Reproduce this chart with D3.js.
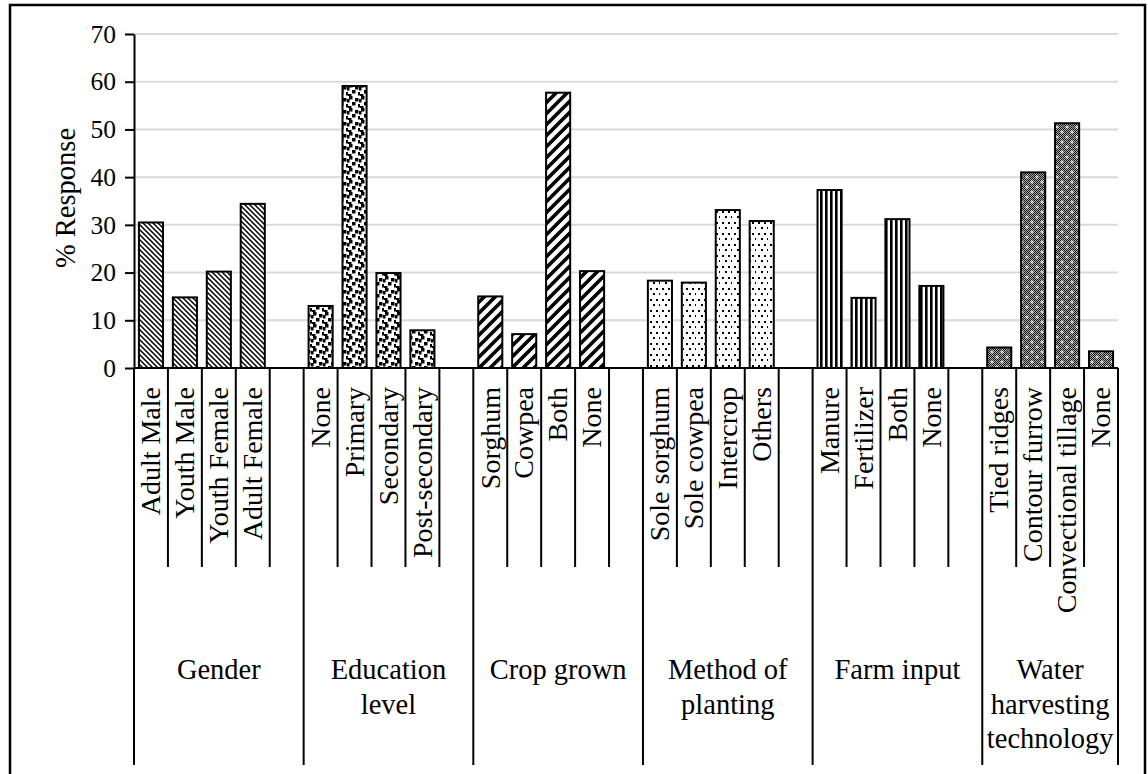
<!DOCTYPE html>
<html>
<head>
<meta charset="utf-8">
<script src="https://cdn.jsdelivr.net/npm/d3@7/dist/d3.min.js"></script>
<style>
  html, body { margin: 0; padding: 0; background: #fff; }
  svg { display: block; }
  text { font-family: "Liberation Serif", "Times New Roman", serif; fill: #000; }
</style>
</head>
<body>
<svg id="chart" width="1148" height="774"></svg>
<script>
// ---- data ----
const groupNames = ["Gender", "Education level", "Crop grown", "Method of planting", "Farm input", "Water harvesting technology"];
const groupLabelLines = [["Gender"], ["Education", "level"], ["Crop grown"], ["Method of", "planting"], ["Farm input"], ["Water", "harvesting", "technology"]];

const genderCats = ["Adult Male", "Youth Male", "Youth Female", "Adult Female"];
const genderValues = [30.5, 14.8, 20.2, 34.4];

const educationCats = ["None", "Primary", "Secondary", "Post-secondary"];
const educationValues = [13.0, 59.1, 19.9, 7.9];

const cropCats = ["Sorghum", "Cowpea", "Both", "None"];
const cropValues = [15.0, 7.1, 57.7, 20.3];

const plantingCats = ["Sole sorghum", "Sole cowpea", "Intercrop", "Others"];
const plantingValues = [18.3, 17.9, 33.1, 30.8];

const inputCats = ["Manure", "Fertilizer", "Both", "None"];
const inputValues = [37.3, 14.7, 31.2, 17.2];

const waterCats = ["Tied ridges", "Contour furrow", "Convectional tillage", "None"];
const waterValues = [4.3, 41.0, 51.3, 3.5];

const yTicks = [0, 10, 20, 30, 40, 50, 60, 70];

const groupCats = [genderCats, educationCats, cropCats, plantingCats, inputCats, waterCats];
const groupValues = [genderValues, educationValues, cropValues, plantingValues, inputValues, waterValues];
const patternIds = ["pGender", "pEdu", "pCrop", "pPlant", "pInput", "pWater"];

(function draw() {
// ---- layout ----
const svg = d3.select("#chart");
const plotLeft = 134, plotRight = 1118, plotTop = 34, plotBase = 368;
const shortEnd = 567, longEnd = 765;

// ---- patterns ----
const defs = svg.append("defs");
{
  const s = 5;
  const p = defs.append("pattern").attr("id", "pGender").attr("patternUnits", "userSpaceOnUse").attr("width", s).attr("height", s);
  p.append("rect").attr("width", s).attr("height", s).attr("fill", "#fff");
  p.append("path").attr("d", `M-1,-1L${s+1},${s+1}M${s-1},-1L${s+1},1M-1,${s-1}L1,${s+1}`).attr("stroke", "#000").attr("stroke-width", 1.5);
}
{
  const s = 12;
  const p = defs.append("pattern").attr("id", "pEdu").attr("patternUnits", "userSpaceOnUse").attr("width", s).attr("height", s);
  p.append("rect").attr("width", s).attr("height", s).attr("fill", "#fff");
  [[1,0],[7,2],[4,6],[10,8],[0,10],[11,3]].forEach(([x,y]) => {
    p.append("rect").attr("x", x).attr("y", y).attr("width", 3.5).attr("height", 3.5).attr("fill", "#000");
  });
  // wrap-around pieces
  p.append("rect").attr("x", -1).attr("y", 3).attr("width", 2.5).attr("height", 3.5).attr("fill", "#000");
}
{
  const s = 11;
  const p = defs.append("pattern").attr("id", "pCrop").attr("patternUnits", "userSpaceOnUse").attr("width", s).attr("height", s);
  p.append("rect").attr("width", s).attr("height", s).attr("fill", "#fff");
  p.append("path").attr("d", `M-2,${s+2}L${s+2},-2M-2,2L2,-2M${s-2},${s+2}L${s+2},${s-2}`).attr("stroke", "#000").attr("stroke-width", 3.6);
}
{
  const w = 12, h = 11;
  const p = defs.append("pattern").attr("id", "pPlant").attr("patternUnits", "userSpaceOnUse").attr("width", w).attr("height", h);
  p.append("rect").attr("width", w).attr("height", h).attr("fill", "#fff");
  [[2,2],[8,2],[5,7],[11,7]].forEach(([x,y]) => {
    p.append("rect").attr("x", x).attr("y", y).attr("width", 2).attr("height", 2).attr("fill", "#000");
  });
}
{
  const s = 5;
  const p = defs.append("pattern").attr("id", "pInput").attr("patternUnits", "userSpaceOnUse").attr("width", s).attr("height", s);
  p.append("rect").attr("width", s).attr("height", s).attr("fill", "#fff");
  p.append("rect").attr("x", 0).attr("width", 2.6).attr("height", s).attr("fill", "#000");
}
{
  const c = defs.append("pattern").attr("id", "pChecker").attr("patternUnits", "userSpaceOnUse").attr("width", 2).attr("height", 2);
  c.append("rect").attr("width", 2).attr("height", 2).attr("fill", "#fff");
  c.append("rect").attr("x", 0).attr("y", 0).attr("width", 1).attr("height", 1).attr("fill", "#000");
  c.append("rect").attr("x", 1).attr("y", 1).attr("width", 1).attr("height", 1).attr("fill", "#000");
  const s = 10;
  const p = defs.append("pattern").attr("id", "pWater").attr("patternUnits", "userSpaceOnUse").attr("width", s).attr("height", s);
  p.append("rect").attr("width", s).attr("height", s).attr("fill", "#333");
  p.append("rect").attr("width", s).attr("height", s).attr("fill", "url(#pChecker)").attr("opacity", 0.6);
  [[2,2],[7,7]].forEach(([x,y]) => {
    p.append("rect").attr("x", x - 1.5).attr("y", y - 0.5).attr("width", 3).attr("height", 1).attr("fill", "#fff");
    p.append("rect").attr("x", x - 0.5).attr("y", y - 1.5).attr("width", 1).attr("height", 3).attr("fill", "#fff");
  });
}

// ---- slots ----
const slots = [];
groupNames.forEach((g, gi) => {
  groupCats[gi].forEach((c, ci) => {
    slots.push({ id: gi + "-" + ci, group: gi, cat: c, value: groupValues[gi][ci], blank: false });
  });
  if (gi < groupNames.length - 1) slots.push({ id: gi + "-blank", group: gi, blank: true });
});

const x = d3.scaleBand().domain(slots.map(d => d.id)).range([plotLeft, plotRight]).padding(0);
const y = d3.scaleLinear().domain([0, 70]).range([plotBase, plotTop]);
const bw = x.bandwidth();
const barW = bw * 0.71;

// ---- outer border ----
svg.append("rect").attr("x", 10).attr("y", 5).attr("width", 1135).attr("height", 820)
  .attr("fill", "none").attr("stroke", "#000").attr("stroke-width", 2.5);

// ---- gridlines ----
svg.append("g").selectAll("line").data(yTicks.filter(t => t > 0)).join("line")
  .attr("x1", plotLeft).attr("x2", plotRight)
  .attr("y1", d => y(d)).attr("y2", d => y(d))
  .attr("stroke", "#d9d9d9").attr("stroke-width", 2);

// ---- y axis ----
const yAxis = svg.append("g").attr("transform", `translate(${plotLeft},0)`)
  .call(d3.axisLeft(y).tickValues(yTicks).tickSize(9).tickPadding(9).tickSizeOuter(0));
yAxis.select(".domain").attr("stroke", "#000").attr("stroke-width", 2);
yAxis.selectAll(".tick line").attr("stroke", "#000").attr("stroke-width", 2);
yAxis.selectAll(".tick text").style("font-family", "'Liberation Serif', serif").style("font-size", "25.5px").attr("fill", "#000");

svg.append("text").attr("transform", `translate(75,198) rotate(-90)`)
  .attr("text-anchor", "middle").style("font-size", "28.5px").text("% Response");

// ---- bars ----
const bars = slots.filter(d => !d.blank);
svg.append("g").selectAll("rect").data(bars).join("rect")
  .attr("x", d => x(d.id) + (bw - barW) / 2)
  .attr("width", barW)
  .attr("y", d => y(d.value))
  .attr("height", d => y(0) - y(d.value))
  .attr("fill", d => `url(#${patternIds[d.group]})`)
  .attr("stroke", "#000").attr("stroke-width", 2);

// ---- x axis line ----
svg.append("line").attr("x1", plotLeft).attr("x2", plotRight).attr("y1", y(0)).attr("y2", y(0))
  .attr("stroke", "#000").attr("stroke-width", 2);

// ---- category boundaries ----
const bounds = d3.range(slots.length + 1).map(i => ({
  i, xpos: plotLeft + i * bw,
  long: i === 0 || i === slots.length || slots[i - 1].blank
}));
svg.append("g").selectAll("line").data(bounds).join("line")
  .attr("x1", d => d.xpos).attr("x2", d => d.xpos)
  .attr("y1", y(0)).attr("y2", d => d.long ? longEnd : shortEnd)
  .attr("stroke", "#000").attr("stroke-width", 2);

// ---- category labels ----
svg.append("g").selectAll("text").data(bars).join("text")
  .attr("transform", d => `translate(${x(d.id) + bw / 2},387) rotate(-90)`)
  .attr("text-anchor", "end").attr("dy", "0.33em")
  .style("font-size", "28px")
  .text(d => d.cat);

// ---- group labels ----
const longBounds = bounds.filter(b => b.long).map(b => b.xpos);
groupLabelLines.forEach((lines, gi) => {
  const cx = (longBounds[gi] + longBounds[gi + 1]) / 2;
  const t = svg.append("text").attr("text-anchor", "middle").style("font-size", "28.5px");
  lines.forEach((ln, li) => {
    t.append("tspan").attr("x", cx).attr("y", 679 + li * 34.5).text(ln);
  });
});
})();
</script>
</body>
</html>
